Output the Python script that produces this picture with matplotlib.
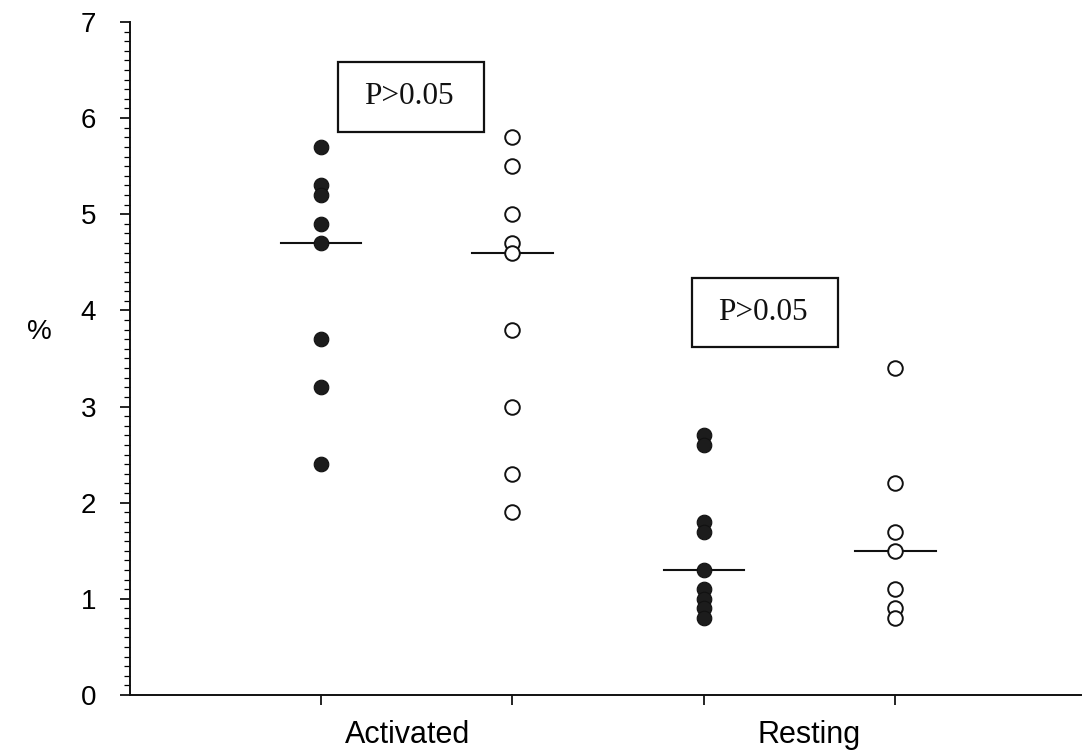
import matplotlib
matplotlib.use('Agg')
import matplotlib.pyplot as plt
from matplotlib.patches import Rectangle
from matplotlib.ticker import MultipleLocator

# data (%)
groups = ['Activated', 'Resting']
act_filled = [5.7, 5.3, 5.2, 4.9, 4.7, 3.7, 3.2, 2.4]
act_open = [5.8, 5.5, 5.0, 4.7, 4.6, 3.8, 3.0, 2.3, 1.9]
rest_filled = [2.7, 2.6, 1.8, 1.7, 1.3, 1.1, 1.0, 0.9, 0.8]
rest_open = [3.4, 2.2, 1.7, 1.5, 1.1, 0.9, 0.8]
medians = [4.7, 4.6, 1.3, 1.5]
p_labels = ['P>0.05', 'P>0.05']

series = [act_filled, act_open, rest_filled, rest_open]
filled = [True, False, True, False]

plt.rcParams['font.family'] = ['Liberation Sans', 'DejaVu Sans']

fig = plt.figure(figsize=(10.84, 7.55), dpi=100)
ax = fig.add_axes([0.1195, 0.0795, 0.8778, 0.8914])

for i, (vals, f) in enumerate(zip(series, filled)):
    xpos = [i + 1] * len(vals)
    if f:
        ax.plot(xpos, vals, 'o', ms=10.5, color='#1c1c1c', mec='#111111',
                mew=0.8, zorder=3)
    else:
        ax.plot(xpos, vals, 'o', ms=10.5, mfc='white', mec='#111111',
                mew=1.4, zorder=3)
    ax.plot([i + 1 - 0.21, i + 1 + 0.21], [medians[i], medians[i]],
            color='#111111', lw=1.5, zorder=2)

# P-value boxes
boxes = [(1.09, 5.86), (2.94, 3.62)]
for (bx, by), lab in zip(boxes, p_labels):
    ax.add_patch(Rectangle((bx, by), 0.76, 0.72, fill=False,
                           edgecolor='#111111', lw=1.6, zorder=4))
    ax.text(bx + 0.37, by + 0.36, lab, ha='center', va='center',
            fontsize=22.5, family='Liberation Serif', color='#111111')

ax.set_xlim(0, 4.97)
ax.set_ylim(0, 7)
ax.spines['top'].set_visible(False)
ax.spines['right'].set_visible(False)
for s in ['left', 'bottom']:
    ax.spines[s].set_linewidth(1.4)
    ax.spines[s].set_color('#111111')

ax.yaxis.set_major_locator(MultipleLocator(1))
ax.yaxis.set_minor_locator(MultipleLocator(0.1))
ax.tick_params(axis='y', which='major', direction='out', length=7, width=1.2,
               labelsize=20, pad=17)
ax.tick_params(axis='y', which='minor', direction='out', length=4, width=0.9)

ax.set_xticks([1, 2, 3, 4])
ax.set_xticklabels([])
ax.set_xticks([1.45, 3.55], minor=True)
ax.set_xticklabels(groups, minor=True)
ax.tick_params(axis='x', which='major', direction='out', length=7, width=1.2)
ax.tick_params(axis='x', which='minor', length=0, labelsize=22, pad=18)

ax.set_ylabel('%', rotation=0, fontsize=20)
ax.yaxis.set_label_coords(-0.095, 0.52)

fig.savefig('out.png', dpi=100)
